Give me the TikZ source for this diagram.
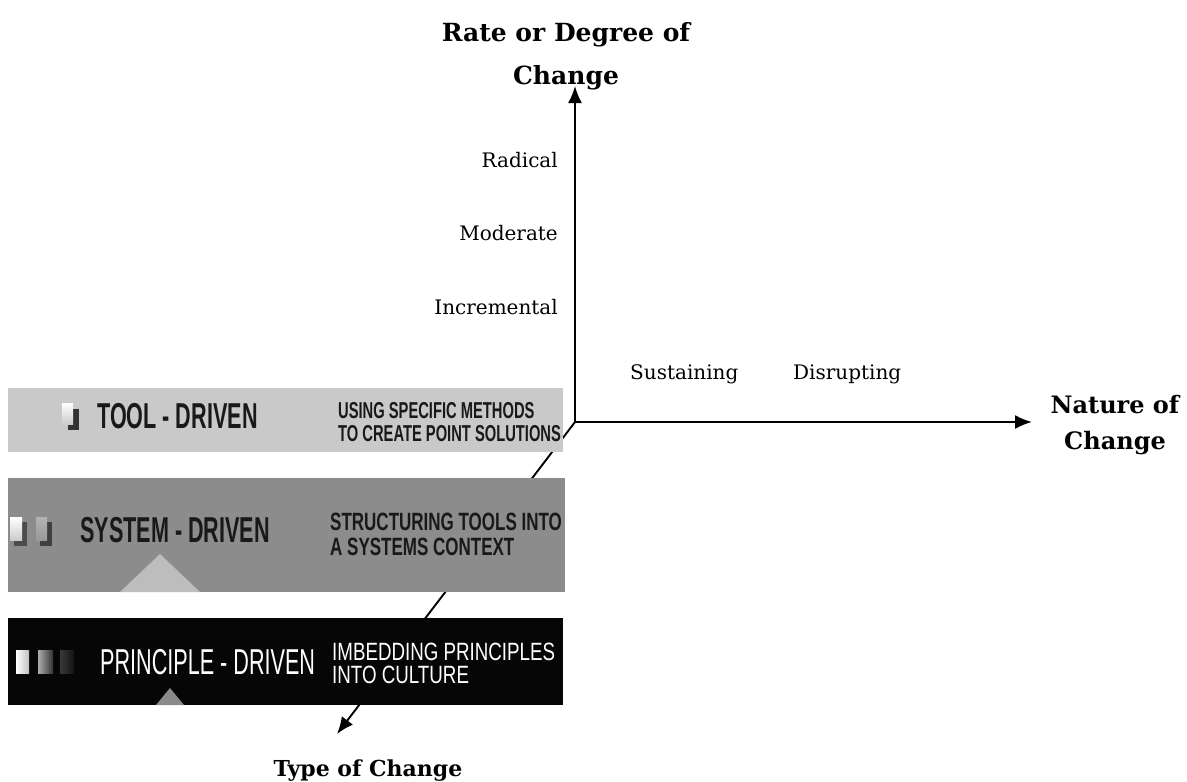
\documentclass[tikz,border=0pt]{standalone}
\usepackage{fontspec}
\setmainfont{DejaVu Serif}
\newfontfamily\bandfont[FakeStretch=0.6]{Liberation Sans}
\newfontfamily\bandnotefont[FakeStretch=0.64]{Liberation Sans}
\newfontfamily\bandwidefont[FakeStretch=0.68]{Liberation Sans}
\newfontfamily\bandlightfont[FakeStretch=0.75]{Liberation Sans}
\usetikzlibrary{arrows.meta}

\definecolor{bandlight}{HTML}{C9C9C9}
\definecolor{bandmid}{HTML}{8C8C8C}
\definecolor{banddark}{HTML}{060606}
\definecolor{peaklight}{HTML}{BDBDBD}
\definecolor{peakdark}{HTML}{8A8A8A}

\tikzset{
  axislabel/.style={font=\fontsize{20}{24}\selectfont, inner sep=0pt},
  axistitle/.style={font=\bfseries\fontsize{25}{43}\selectfont, align=center, inner sep=0pt},
  axisline/.style={line width=1.9pt, -{Latex[length=17pt,width=14pt]}},
  band/.style={inner sep=0pt, anchor=north west, draw=none},
  bandtitle/.style={font=\bandfont\bfseries\fontsize{36}{36}\selectfont, inner sep=0pt, anchor=west},
  bandnote/.style={font=\bandnotefont\bfseries\fontsize{23}{23}\selectfont, align=left, inner sep=0pt, anchor=west},
}

\begin{document}
\begin{tikzpicture}[x=1pt,y=-1pt]
\useasboundingbox[fill=white] (0,0) rectangle (1187,782);

% axis end points
\coordinate (O) at (575,422);
\coordinate (ytip) at (575,86);
\coordinate (xtip) at (1032,422);
\coordinate (ztip) at (337,734);

% third axis runs behind the bands
\draw[axisline] (O) -- (ztip);

% bands
\node[band, fill=bandlight, minimum width=555pt, minimum height=64pt] (tool) at (8,388) {};
\node[band, fill=bandmid, minimum width=557pt, minimum height=114pt] (system) at (8,478) {};
\node[band, fill=banddark, minimum width=555pt, minimum height=87pt] (principle) at (8,618) {};

% pointer triangles
\fill[peaklight] (120,592) -- (160,554) -- (200,592) -- cycle;
\fill[peakdark] (156,705) -- (170,688) -- (184,705) -- cycle;

% small square markers
\fill[black!80] (68,409) rectangle (79,430);
\shade[top color=white, bottom color=gray!40] (62,403) rectangle (73,424);

\fill[black!70] (14,522) rectangle (27,546);
\shade[top color=white, bottom color=gray!40] (10,517) rectangle (22,540);
\fill[black!75] (40,522) rectangle (52,546);
\shade[top color=gray!60, bottom color=gray!80] (36,517) rectangle (47,540);

\shade[left color=white, right color=gray!50] (16,650) rectangle (29,673);
\shade[left color=gray!65, right color=gray!40!black] (38,650) rectangle (53,673);
\shade[left color=gray!45!black, right color=gray!15!black] (60,650) rectangle (74,673);

% band texts
\node[bandtitle, text=black!90] (tooltext) at (97,416) {TOOL - DRIVEN};
\node[bandnote, text=black!90] (toolnote) at (338,422) {USING SPECIFIC METHODS\\TO CREATE POINT SOLUTIONS};
\node[bandtitle, text=black!90] (systemtext) at (80,530) {SYSTEM - DRIVEN};
\node[bandnote, font=\bandwidefont\bfseries\fontsize{25}{25}\selectfont, text=black!90] (systemnote) at (330,534) {STRUCTURING TOOLS INTO\\A SYSTEMS CONTEXT};
\node[bandtitle, font=\bandfont\fontsize{36}{36}\selectfont, text=white] (principletext) at (100,662) {PRINCIPLE - DRIVEN};
\node[bandnote, font=\bandlightfont\fontsize{25}{23}\selectfont, text=white] (principlenote) at (332,663) {IMBEDDING PRINCIPLES\\INTO CULTURE};

% main axes
\draw[axisline] (O) -- (ytip);
\draw[axisline] (O) -- (xtip);

% axis titles
\node[axistitle, anchor=north] (ytitle) at (566,22) {Rate or Degree of\\Change};
\node[axistitle, font=\bfseries\fontsize{24}{36}\selectfont, anchor=north] (xtitle) at (1115,395) {Nature of\\Change};
\node[axistitle, font=\bfseries\fontsize{22}{26}\selectfont, anchor=base] (ztitle) at (368,776) {Type of Change};

% scale labels
\node[axislabel, anchor=base east] (radical) at (558,167) {Radical};
\node[axislabel, anchor=base east] (moderate) at (558,240) {Moderate};
\node[axislabel, anchor=base east] (incremental) at (558,314) {Incremental};
\node[axislabel, anchor=base west] (sustaining) at (630,379) {Sustaining};
\node[axislabel, anchor=base west] (disrupting) at (793,379) {Disrupting};
\end{tikzpicture}
\end{document}
